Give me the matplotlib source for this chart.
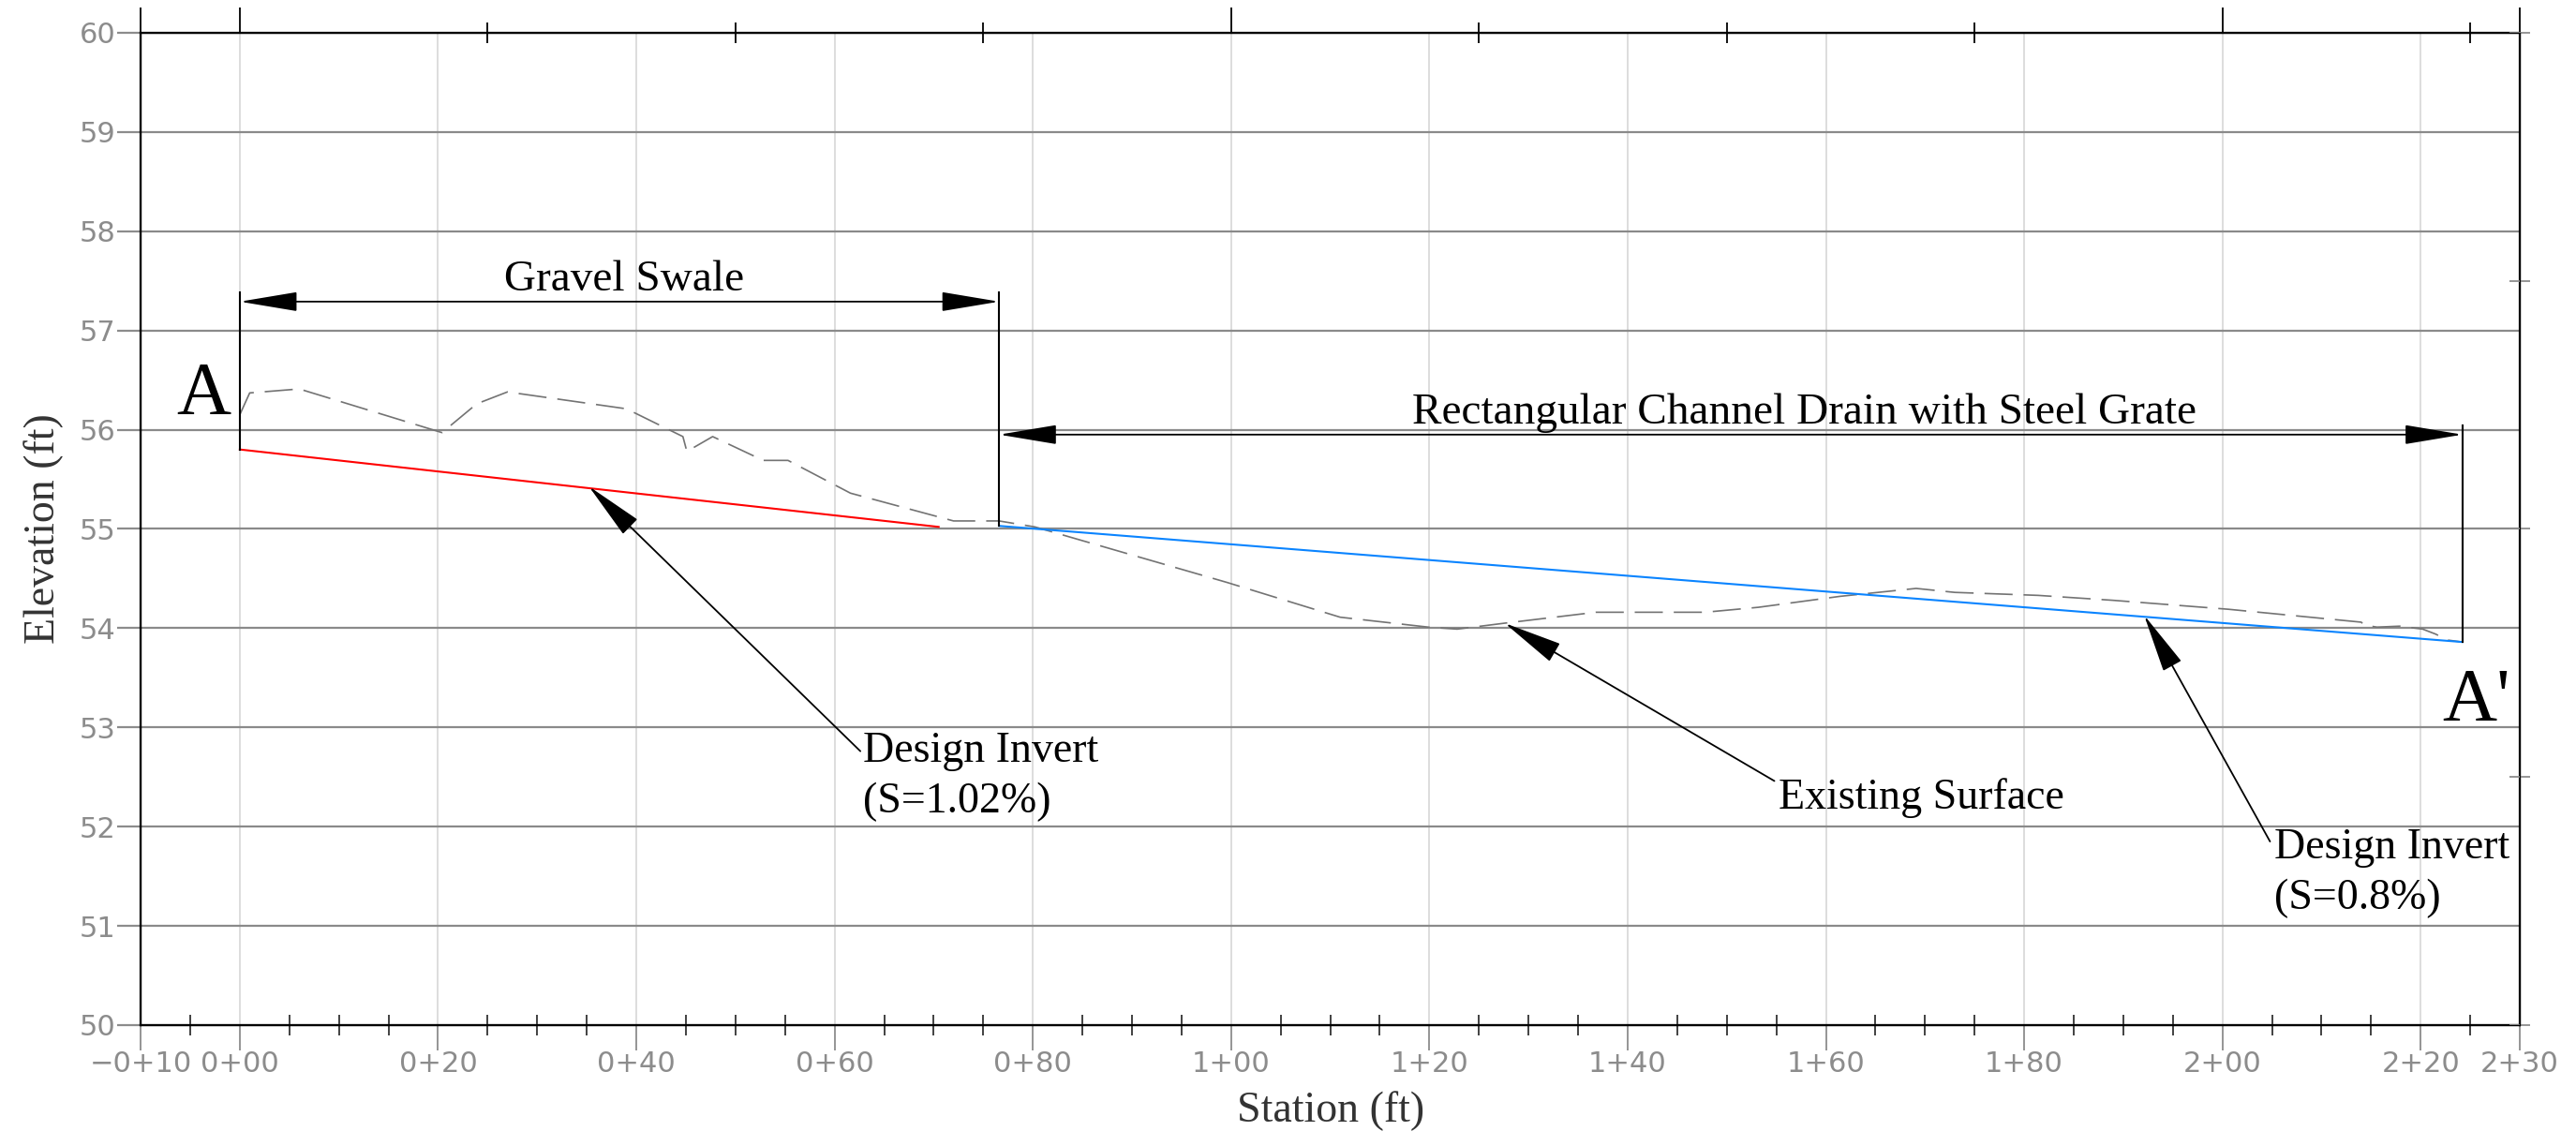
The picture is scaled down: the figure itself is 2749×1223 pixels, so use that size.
import matplotlib
matplotlib.use("Agg")
import matplotlib.pyplot as plt
from matplotlib.patches import FancyArrowPatch
from matplotlib.ticker import FuncFormatter

# existing ground surface (station ft, elevation ft)
surf_sta  = [0, 1, 6, 20.4, 23.9, 27, 39, 44.7, 45.1, 47.7, 52.8, 55.3, 61.6, 72, 76.6, 80.2,
             99.6, 111, 119.9, 122.8, 127.6, 136.8, 147.8, 153.2, 161.4, 169.1, 173, 181.4,
             189, 200.6, 214, 214.3, 215.6, 217.9, 220.2, 221.5, 222.7, 224.2]
surf_elev = [56.15, 56.37, 56.41, 55.97, 56.26, 56.38, 56.21, 55.93, 55.78, 55.93, 55.69, 55.69,
             55.36, 55.08, 55.08, 55.02, 54.46, 54.11, 54.01, 53.99, 54.05, 54.16, 54.16, 54.21,
             54.32, 54.40, 54.36, 54.33, 54.28, 54.19, 54.06, 54.03, 54.01, 54.02, 53.99, 53.94,
             53.88, 53.86]

# design inverts
swale_sta  = [0, 70.5]
swale_elev = [55.80, 55.02]
drain_sta  = [76.6, 224.2]
drain_elev = [55.03, 53.86]

# dimension lines
swale_dim = (0, 76.6, 57.29)
drain_dim = (76.6, 224.2, 55.95)

x_major = [-10, 0, 20, 40, 60, 80, 100, 120, 140, 160, 180, 200, 220, 230]
x_minor = [s for s in range(-5, 230, 5) if s not in x_major]
y_major = list(range(50, 61))
top_major = [-10, 0, 100, 200, 230]
top_minor = [25, 50, 75, 125, 150, 175, 225]
right_ticks = [50, 52.5, 55, 57.5, 60]

SERIF = "Liberation Serif"
GRAY = "#8c8c8c"


def sta_fmt(v, pos):
    sign = "\u2212" if v < 0 else ""
    v = int(round(abs(v)))
    return f"{sign}{v // 100}+{v % 100:02d}"


fig = plt.figure(figsize=(27.49, 12.23), dpi=100)
ax = fig.add_axes([0.0546, 0.1055, 0.9236, 0.866])
ax.set_xlim(-10, 230)
ax.set_ylim(50, 60)
ax.set_axisbelow(True)

ax.set_xticks(x_major)
ax.set_xticks(x_minor, minor=True)
ax.set_yticks(y_major)
ax.xaxis.set_major_formatter(FuncFormatter(sta_fmt))
ax.tick_params(axis="x", which="major", direction="out", length=19.5, width=1.3,
               color=GRAY, labelcolor=GRAY, labelsize=22, pad=0)
ax.tick_params(axis="x", which="minor", direction="inout", length=16, width=1.3, color="#333333")
ax.tick_params(axis="y", which="major", direction="out", length=18, width=1.6,
               color=GRAY, labelcolor=GRAY, labelsize=22, pad=1)

ax.grid(axis="y", color="#8a8a8a", lw=1.6)
ax.grid(axis="x", which="major", color="#dadada", lw=1.3)
for s in ax.spines.values():
    s.set_linewidth(1.6)
    s.set_color("black")

# top and right tick marks
axt = ax.twiny()
axt.set_xlim(-10, 230)
axt.set_xticks(top_major)
axt.set_xticks(top_minor, minor=True)
axt.tick_params(axis="x", which="major", direction="out", length=19.5, width=1.3,
                color="black", labeltop=False)
axt.tick_params(axis="x", which="minor", direction="inout", length=16, width=1.3, color="black")
axr = ax.twinx()
axr.set_ylim(50, 60)
axr.set_yticks(right_ticks)
axr.tick_params(axis="y", direction="inout", length=16, width=1.3, color=GRAY, labelright=False)

# profile lines
ax.plot(surf_sta, surf_elev, color="#737373", lw=1.2, dashes=(18, 7), zorder=3)
ax.plot(swale_sta, swale_elev, color="#ff0000", lw=1.5, zorder=4)
ax.plot(drain_sta, drain_elev, color="#0a84ff", lw=1.5, zorder=4)

# extension lines
ax.plot([0, 0], [57.38, swale_elev[0]], color="black", lw=1.5, zorder=5)
ax.plot([76.6, 76.6], [57.38, drain_elev[0]], color="black", lw=1.5, zorder=5)
ax.plot([224.2, 224.2], [56.04, drain_elev[1]], color="black", lw=1.5, zorder=5)

# dimension arrows
for x0, x1, y in [swale_dim, drain_dim]:
    ax.add_patch(FancyArrowPatch((x0, y), (x1, y),
                                 arrowstyle="<|-|>,head_length=39,head_width=6.5",
                                 mutation_scale=1, shrinkA=0, shrinkB=0,
                                 color="black", lw=1.3, zorder=6))

ax.text(38.8, 57.4, "Gravel Swale", family=SERIF, fontsize=34, ha="center", va="baseline")
ax.text(157.8, 56.06, "Rectangular Channel Drain with Steel Grate", family=SERIF,
        fontsize=34, ha="center", va="baseline")
ax.text(-3.6, 56.16, "A", family=SERIF, fontsize=58, ha="center", va="baseline")
ax.text(222.2, 53.07, "A'", family=SERIF, fontsize=58, ha="left", va="baseline")

# leaders
leaders = [
    ((35.2, 55.43), (62.6, 52.76), (62.9, 52.65), ["Design Invert", "(S=1.02%)"]),
    ((127.6, 54.05), (154.8, 52.46), (155.2, 52.18), ["Existing Surface"]),
    ((192.1, 54.13), (204.8, 51.85), (205.2, 51.68), ["Design Invert", "(S=0.8%)"]),
]
for tip, tail, txt, lines in leaders:
    ax.annotate("", xy=tip, xytext=tail,
                arrowprops=dict(arrowstyle="-|>,head_length=40,head_width=7",
                                mutation_scale=1, shrinkA=0, shrinkB=0,
                                color="black", lw=1.3), zorder=6)
    for i, ln in enumerate(lines):
        ax.text(txt[0], txt[1] - i * 0.51, ln, family=SERIF, fontsize=33,
                ha="left", va="baseline")

ax.set_xlabel("Station (ft)", family=SERIF, fontsize=33, color="#333333", labelpad=10)
ax.set_ylabel("Elevation (ft)", family=SERIF, fontsize=33, color="#333333", labelpad=12)

fig.savefig("out.png", dpi=100)
